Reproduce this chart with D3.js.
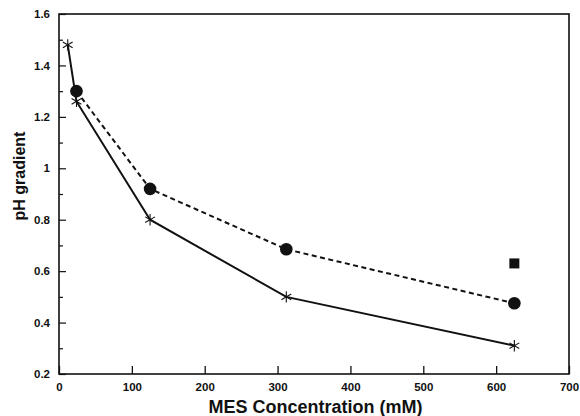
<!DOCTYPE html>
<html>
<head>
<meta charset="utf-8">
<script src="https://cdn.jsdelivr.net/npm/d3@7"></script>
<style>
  html, body { margin: 0; padding: 0; background: #fff; }
  svg { display: block; }
  text { font-family: "Liberation Sans", Arial, Helvetica, sans-serif; font-weight: bold; fill: #111; }
</style>
</head>
<body>
<svg id="chart" width="580" height="416"></svg>
<script>
// MES concentration (mM) vs pH gradient
const starX = [12, 24, 125, 312, 625];
const starY = [1.48, 1.26, 0.80, 0.50, 0.31];

const dotX = [24, 125, 312, 625];
const dotY = [1.30, 0.92, 0.685, 0.475];

const squareX = [625];
const squareY = [0.63];

const xTicks = [0, 100, 200, 300, 400, 500, 600, 700];
const yTicks = [0.2, 0.4, 0.6, 0.8, 1, 1.2, 1.4, 1.6];
const yMinorTicks = [0.3, 0.5, 0.7, 0.9, 1.1, 1.3, 1.5];

const xTitle = "MES Concentration (mM)";
const yTitle = "pH gradient";

const svg = d3.select("#chart");
const m = { left: 59, right: 569, top: 14, bottom: 374 };

const x = d3.scaleLinear().domain([0, 700]).range([m.left, m.right]);
const y = d3.scaleLinear().domain([0.2, 1.6]).range([m.bottom, m.top]);

const ink = "#111";

// frame
svg.append("rect")
  .attr("x", m.left).attr("y", m.top)
  .attr("width", m.right - m.left).attr("height", m.bottom - m.top)
  .attr("fill", "none").attr("stroke", ink).attr("stroke-width", 1.6);

// x axis: inward ticks
const xAxis = d3.axisBottom(x).tickValues(xTicks).tickSize(-8).tickPadding(9)
  .tickFormat(d3.format("d"));
const gx = svg.append("g").attr("transform", `translate(0,${m.bottom})`).call(xAxis);
gx.select(".domain").remove();
gx.selectAll("line").attr("stroke", ink).attr("stroke-width", 1.3);
gx.selectAll("text").attr("font-size", 11.5);

// y axis: major and minor inward ticks
const yAxis = d3.axisLeft(y).tickValues(yTicks).tickSize(-7).tickPadding(9)
  .tickFormat(d => String(+d.toFixed(1)));
const gy = svg.append("g").attr("transform", `translate(${m.left},0)`).call(yAxis);
gy.select(".domain").remove();
gy.selectAll("line").attr("stroke", ink).attr("stroke-width", 1.2);
gy.selectAll("text").attr("font-size", 11.5);

const gyMinor = svg.append("g").attr("transform", `translate(${m.left},0)`)
  .call(d3.axisLeft(y).tickValues(yMinorTicks).tickSize(-4).tickFormat(""));
gyMinor.select(".domain").remove();
gyMinor.selectAll("line").attr("stroke", ink).attr("stroke-width", 1.2);

// axis titles
svg.append("text")
  .attr("x", 315.5).attr("y", 413)
  .attr("text-anchor", "middle").attr("font-size", 18)
  .text(xTitle);

svg.append("text")
  .attr("transform", "translate(25,176) rotate(-90)")
  .attr("text-anchor", "middle").attr("font-size", 16)
  .text(yTitle);

// series
const line = d3.line().x(d => x(d[0])).y(d => y(d[1]));
const stars = starX.map((v, i) => [v, starY[i]]);
const dots = dotX.map((v, i) => [v, dotY[i]]);
const squares = squareX.map((v, i) => [v, squareY[i]]);

svg.append("path").datum(stars)
  .attr("d", line).attr("fill", "none")
  .attr("stroke", ink).attr("stroke-width", 2);

svg.append("path").datum(dots)
  .attr("d", line).attr("fill", "none")
  .attr("stroke", ink).attr("stroke-width", 2)
  .attr("stroke-dasharray", "5,3.5");

// asterisk markers
const starPath = d3.symbol().type(d3.symbolAsterisk || d3.symbolCross).size(90);
svg.append("g").selectAll("path").data(stars).join("path")
  .attr("transform", d => `translate(${x(d[0])},${y(d[1])})`)
  .attr("d", starPath)
  .attr("fill", "none").attr("stroke", ink).attr("stroke-width", 1.1);

svg.append("g").selectAll("circle").data(dots).join("circle")
  .attr("cx", d => x(d[0])).attr("cy", d => y(d[1]))
  .attr("r", 6.3).attr("fill", ink);

const sq = 10;
svg.append("g").selectAll("rect").data(squares).join("rect")
  .attr("x", d => x(d[0]) - sq / 2).attr("y", d => y(d[1]) - sq / 2)
  .attr("width", sq).attr("height", sq).attr("fill", ink);
</script>
</body>
</html>
